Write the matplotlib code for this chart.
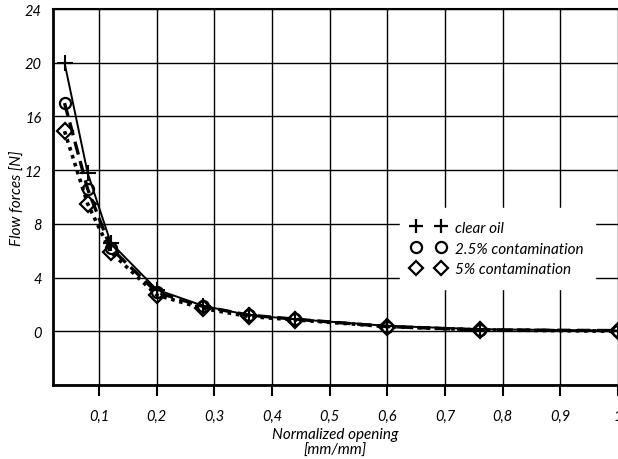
import matplotlib.pyplot as plt
from matplotlib.lines import Line2D

plt.rcParams['font.family'] = ['Lato', 'DejaVu Sans']
plt.rcParams['font.style'] = 'italic'

opening = [0.04, 0.08, 0.12, 0.2, 0.28, 0.36, 0.44, 0.6, 0.76, 1.0]
clear_oil = [20.0, 11.8, 6.6, 3.1, 1.9, 1.2, 0.9, 0.4, 0.15, 0.05]
contam_25 = [17.0, 10.6, 6.2, 2.9, 1.85, 1.2, 0.9, 0.35, 0.1, 0.05]
contam_5 = [14.9, 9.5, 5.9, 2.7, 1.7, 1.1, 0.85, 0.35, 0.1, 0.0]

x_ticks = [0.1, 0.2, 0.3, 0.4, 0.5, 0.6, 0.7, 0.8, 0.9, 1.0]
x_labels = ['0,1', '0,2', '0,3', '0,4', '0,5', '0,6', '0,7', '0,8', '0,9', '1']
y_ticks = [-4, 0, 4, 8, 12, 16, 20, 24]
y_labels = ['', '0', '4', '8', '12', '16', '20', '24']

fig = plt.figure(figsize=(6.18, 4.6), dpi=100)
ax = fig.add_axes([0.0858, 0.161, 0.9142, 0.817])

ax.plot(opening, clear_oil, color='black', lw=1.4, ls='-', zorder=3)
ax.plot(opening, contam_25, color='black', lw=2.4, ls=(0, (4, 2)), zorder=3)
ax.plot(opening, contam_5, color='black', lw=2.6, ls=(0, (1, 1.3)), zorder=3)

ax.plot(opening, contam_5, ls='none', marker='D', ms=8, mfc='none', mec='black', mew=1.6, zorder=4)
ax.plot(opening, contam_25, ls='none', marker='o', ms=8, mfc='none', mec='black', mew=1.6, zorder=4)
ax.plot(opening, clear_oil, ls='none', marker='+', ms=11, mec='black', mew=1.5, zorder=5)

ax.set_xlim(0.02, 1.0)
ax.set_ylim(-4, 24)
ax.set_xticks(x_ticks)
ax.set_xticklabels(x_labels, fontsize=10.5)
ax.set_yticks(y_ticks)
ax.set_yticklabels(y_labels, fontsize=10.5)
ax.tick_params(axis='y', length=0, pad=8)
ax.tick_params(axis='x', length=8, width=1.5, direction='out', pad=9)
ax.grid(True, color='black', lw=1.0)

for side in ['left', 'bottom']:
    ax.spines[side].set_linewidth(2)
ax.spines['top'].set_linewidth(1.5)
ax.spines['right'].set_visible(False)

ax.set_ylabel('Flow forces [N]', fontsize=11)
ax.yaxis.set_label_coords(-0.05, 0.5)
ax.set_xlabel('Normalized opening\n[mm/mm]', fontsize=11, labelpad=3, linespacing=1.2)

handles = [
    Line2D([], [], ls='none', marker='+', ms=10, mec='black', mew=1.6),
    Line2D([], [], ls='none', marker='o', ms=8, mfc='none', mec='black', mew=1.6),
    Line2D([], [], ls='none', marker='D', ms=7, mfc='none', mec='black', mew=1.6),
]
leg = ax.legend(handles, ['clear oil', '2.5% contamination', '5% contamination'],
                numpoints=2, loc='upper left', bbox_to_anchor=(0.6, 0.49),
                frameon=True, framealpha=1, edgecolor='white', fancybox=False,
                fontsize=11, handlelength=2.2, handletextpad=0.6, labelspacing=0.45,
                borderpad=0.8)
leg.set_zorder(10)

fig.savefig('out.png', dpi=100)
